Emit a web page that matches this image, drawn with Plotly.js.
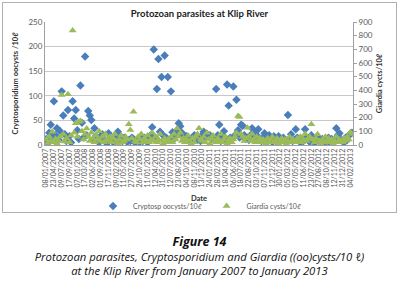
<!DOCTYPE html>
<html>
<head>
<meta charset="utf-8">
<script src="https://cdn.plot.ly/plotly-3.0.1.min.js"></script>
<style>
  html, body { margin:0; padding:0; background:#fff; width:399px; height:283px; overflow:hidden; }
  #frame { position:absolute; left:2px; top:2px; width:393px; height:209px; border:1px solid #b0b0b0; }
  #chart { position:absolute; left:0; top:0; width:399px; height:215px; }
  .cap { position:absolute; left:0; width:399px; text-align:center; font-family:"Open Sans", sans-serif; font-style:italic; color:#111; }
</style>
</head>
<body>
<div id="frame"></div>
<div id="chart"></div>
<div class="cap" style="top:233px; font-size:12.5px; font-weight:bold;">Figure 14</div>
<div class="cap" style="top:250px; font-size:11.3px; line-height:14px;">Protozoan parasites, Cryptosporidium and Giardia ((oo)cysts/10 ℓ)<br>at the Klip River from January 2007 to January 2013</div>
<script>
const dateLabels = ["08/01/2007","23/04/2007","09/07/2007","17/09/2007","07/01/2008","17/03/2008","02/06/2008","01/09/2008","17/11/2008","09/02/2009","11/05/2009","27/07/2009","26/10/2009","11/01/2010","12/04/2010","31/05/2010","12/07/2010","23/08/2010","04/10/2010","08/11/2010","13/12/2010","24/01/2011","28/02/2011","18/04/2011","06/06/2011","18/07/2011","22/08/2011","03/10/2011","07/11/2011","12/12/2011","30/01/2012","05/03/2012","07/05/2012","11/06/2012","23/07/2012","27/08/2012","08/10/2012","12/11/2012","31/12/2012","04/02/2013"];

// Cryptosporidium oocysts/10 l (left axis), one value per sample
const crypto = [
 12,4,25,41,15,89,20,34,10,28,
 109,60,22,8,71,18,5,89,54,71,
 30,12,121,45,15,180,20,69,60,51,
 10,34,18,8,5,15,22,12,8,3,
 24,15,10,6,12,18,27,20,10,8,
 15,12,6,10,8,15,12,5,8,10,
 6,12,8,15,10,5,12,20,36,194,
 15,114,175,27,138,20,182,15,138,10,
 109,26,12,20,30,44,38,25,20,15,
 18,12,10,8,15,20,12,10,14,8,
 20,27,15,23,18,20,12,15,10,114,
 20,41,8,15,28,10,123,80,15,12,
 119,20,92,30,15,41,39,20,12,15,
 10,20,34,15,26,20,32,12,8,15,
 24,10,8,20,12,6,18,10,5,18,
 8,12,15,10,5,61,12,22,8,10,
 32,15,10,5,12,8,32,15,10,6,
 20,12,5,8,15,10,6,12,5,10,
 8,15,5,12,8,10,34,20,24,10,
 8,5,15,10,20,22,25
];

// Giardia cysts/10 l (right axis)
const giardia = [
 40,15,60,30,97,20,45,10,30,60,
 366,80,25,50,371,20,70,837,90,159,
 60,171,176,100,40,80,120,60,30,90,
 50,20,70,40,100,30,60,20,80,40,
 30,60,20,50,80,30,10,40,70,20,
 30,60,40,152,110,50,244,30,20,60,
 40,80,20,50,30,70,20,40,90,30,
 60,20,40,80,30,10,50,20,40,30,
 60,20,80,40,120,60,90,30,50,20,
 40,70,30,10,50,20,60,80,122,40,
 30,60,20,90,40,10,50,70,30,20,
 50,30,80,20,40,60,10,30,50,20,
 40,60,90,212,205,80,60,30,50,127,
 60,30,80,40,20,60,30,50,20,40,
 30,10,50,20,40,60,20,30,50,10,
 30,50,20,40,10,30,60,20,40,30,
 20,50,30,60,20,40,80,30,50,60,
 151,40,20,50,78,30,10,40,20,60,
 30,50,20,40,10,30,60,20,40,30,
 20,50,30,60,40,93,80
];

const labelStep = 5;
const idx = crypto.map((_, i) => i);
const tickvals = dateLabels.map((_, i) => i * labelStep);

const FONT = "Lato, 'Open Sans', sans-serif";
const grey = "#595959";

const traces = [
  { x: idx, y: crypto, type: "scatter", mode: "markers", name: "Cryptosp oocysts/10ℓ",
    marker: { symbol: "diamond", size: 6.5, color: "#4a7ebb" }, yaxis: "y" },
  { x: idx.slice(0, giardia.length), y: giardia, type: "scatter", mode: "markers", name: "Giardia cysts/10ℓ",
    marker: { symbol: "triangle-up", size: 7, color: "#9bbb59" }, yaxis: "y2" }
];

const layout = {
  width: 399, height: 215,
  margin: { l: 45, r: 46, t: 22, b: 70 },
  paper_bgcolor: "rgba(0,0,0,0)",
  plot_bgcolor: "#fff",
  font: { family: FONT, size: 8, color: grey },
  title: { text: "<b>Protozoan parasites at Klip River</b>", font: { family: FONT, size: 9.5, color: "#222" },
           x: 0.5, xanchor: "center", y: 1 - 14/215, yanchor: "middle", yref: "container" },
  showlegend: true,
  legend: { orientation: "h", x: 0.5, xanchor: "center", xref: "container",
            y: 1 - 206/215, yanchor: "middle", yref: "container",
            font: { family: FONT, size: 7, color: grey }, itemwidth: 30, tracegroupgap: 0,
            bgcolor: "rgba(0,0,0,0)" },
  annotations: [
    { text: "<b>Date</b>", xref: "paper", yref: "paper", x: 0.5, y: -(198 - 145) / 123,
      xanchor: "center", yanchor: "middle", showarrow: false, font: { family: FONT, size: 7.5, color: "#333" } }
  ],
  xaxis: {
    automargin: false,
    range: [-0.7, crypto.length - 0.3],
    tickmode: "array", tickvals: tickvals, ticktext: dateLabels,
    tickangle: -90, tickfont: { family: FONT, size: 7, color: grey },
    showgrid: false, zeroline: false, showline: true, linecolor: "#a0a0a0", linewidth: 1,
    ticks: ""
  },
  yaxis: {
    automargin: false,
    range: [0, 250], dtick: 50, tick0: 0,
    showgrid: true, gridcolor: "#c8c8c8", gridwidth: 1, zeroline: false,
    showline: true, linecolor: "#a0a0a0", ticks: "",
    tickfont: { family: FONT, size: 8, color: grey },
    title: { text: "<b>Cryptosporidium oocysts /10ℓ</b>", font: { family: FONT, size: 7.5, color: "#333" }, standoff: 8 }
  },
  yaxis2: {
    automargin: false,
    overlaying: "y", side: "right", range: [0, 900], dtick: 100, tick0: 0,
    showgrid: false, zeroline: false, showline: true, linecolor: "#a0a0a0",
    ticks: "outside", ticklen: 3, tickcolor: "#a0a0a0",
    tickfont: { family: FONT, size: 8, color: grey },
    title: { text: "<b>Giardia cycts/10ℓ</b>", font: { family: FONT, size: 7.5, color: "#333" }, standoff: 4 }
  }
};

Plotly.newPlot("chart", traces, layout, { displayModeBar: false, staticPlot: true });
</script>
</body>
</html>
